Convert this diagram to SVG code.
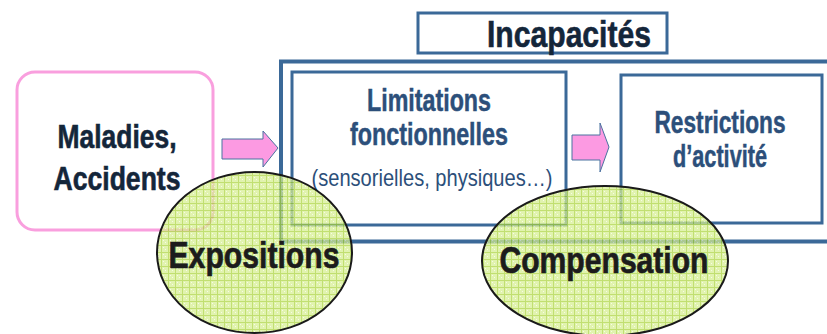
<svg xmlns="http://www.w3.org/2000/svg" width="827" height="334" viewBox="0 0 827 334">
  <style>
    .frame { fill: #ffffff; stroke: #3b6998; stroke-width: 3; }
    .title { font-family: "Liberation Sans", Arial, sans-serif; font-weight: bold; fill: #14263a; stroke: #14263a; stroke-width: 0.6; text-anchor: middle; }
    .label { font-family: "Liberation Sans", Arial, sans-serif; font-weight: bold; fill: #2c4f7a; stroke: #2c4f7a; stroke-width: 0.5; text-anchor: middle; }
    .note { font-family: "Liberation Sans", Arial, sans-serif; fill: #2c4f7a; text-anchor: middle; }
    .bubble { fill: url(#grid); fill-opacity: 0.72; stroke: #1a1a1a; stroke-width: 2; }
    .bubble-text { font-family: "Liberation Sans", Arial, sans-serif; font-weight: bold; fill: #1c1c1c; stroke: #1c1c1c; stroke-width: 0.7; text-anchor: middle; }
    .flow { fill: #fc9ae2; stroke: #4a73a0; stroke-width: 1; }
  </style>
  <defs>
    <pattern id="grid" width="7" height="7" patternUnits="userSpaceOnUse">
      <rect width="7" height="7" fill="#d6ee90"/>
      <rect x="2" y="2" width="1" height="1" fill="#f2fadc"/>
      <rect x="4" y="4" width="1" height="1" fill="#f2fadc"/>
      <path d="M0 0.5H7M0.5 0V7" stroke="#a9d23a" stroke-width="1"/>
    </pattern>
  </defs>

  <rect width="827" height="334" fill="#ffffff"/>

  <g id="maladies">
    <rect x="17" y="72" width="196" height="158" rx="18" ry="18" fill="#ffffff" stroke="#f99fde" stroke-width="3"/>
    <text class="title" x="117" y="148" font-size="33" textLength="119" lengthAdjust="spacingAndGlyphs">Maladies,</text>
    <text class="title" x="117" y="190" font-size="33" textLength="127" lengthAdjust="spacingAndGlyphs">Accidents</text>
  </g>

  <g id="incapacites">
    <rect class="frame" x="418" y="13" width="249" height="40"/>
    <text class="title" x="569" y="47" font-size="37" textLength="164" lengthAdjust="spacingAndGlyphs">Incapacités</text>
    <!-- open frame: runs on past the right edge -->
    <path d="M827 61.5H281V241.5H827" fill="none" stroke="#3b6998" stroke-width="4"/>
  </g>

  <g id="limitations">
    <rect class="frame" x="292" y="72" width="274" height="153"/>
    <text class="label" x="429" y="111" font-size="32" textLength="124" lengthAdjust="spacingAndGlyphs">Limitations</text>
    <text class="label" x="429" y="145" font-size="32" textLength="158" lengthAdjust="spacingAndGlyphs">fonctionnelles</text>
    <text class="note" x="432" y="186" font-size="24" textLength="241" lengthAdjust="spacingAndGlyphs">(sensorielles, physiques…)</text>
  </g>

  <g id="restrictions">
    <rect class="frame" x="621" y="75" width="201" height="148"/>
    <text class="label" x="720" y="133" font-size="31" textLength="131" lengthAdjust="spacingAndGlyphs">Restrictions</text>
    <text class="label" x="720" y="167" font-size="31" textLength="94" lengthAdjust="spacingAndGlyphs">d’activité</text>
  </g>

  <g id="connectors">
    <polygon class="flow" points="222,139 263,139 263,131 278,148 263,167 263,159 222,159"/>
    <polygon class="flow" points="572,135 600,135 600,123 609,147 600,172 600,160 572,160"/>
  </g>

  <g id="expositions">
    <ellipse class="bubble" cx="254.5" cy="252.5" rx="97.5" ry="80.5"/>
    <text class="bubble-text" x="254" y="268" font-size="37" textLength="171" lengthAdjust="spacingAndGlyphs">Expositions</text>
  </g>

  <g id="compensation">
    <ellipse class="bubble" cx="605" cy="261" rx="123" ry="75"/>
    <text class="bubble-text" x="604" y="273" font-size="36" textLength="209" lengthAdjust="spacingAndGlyphs">Compensation</text>
  </g>
</svg>
